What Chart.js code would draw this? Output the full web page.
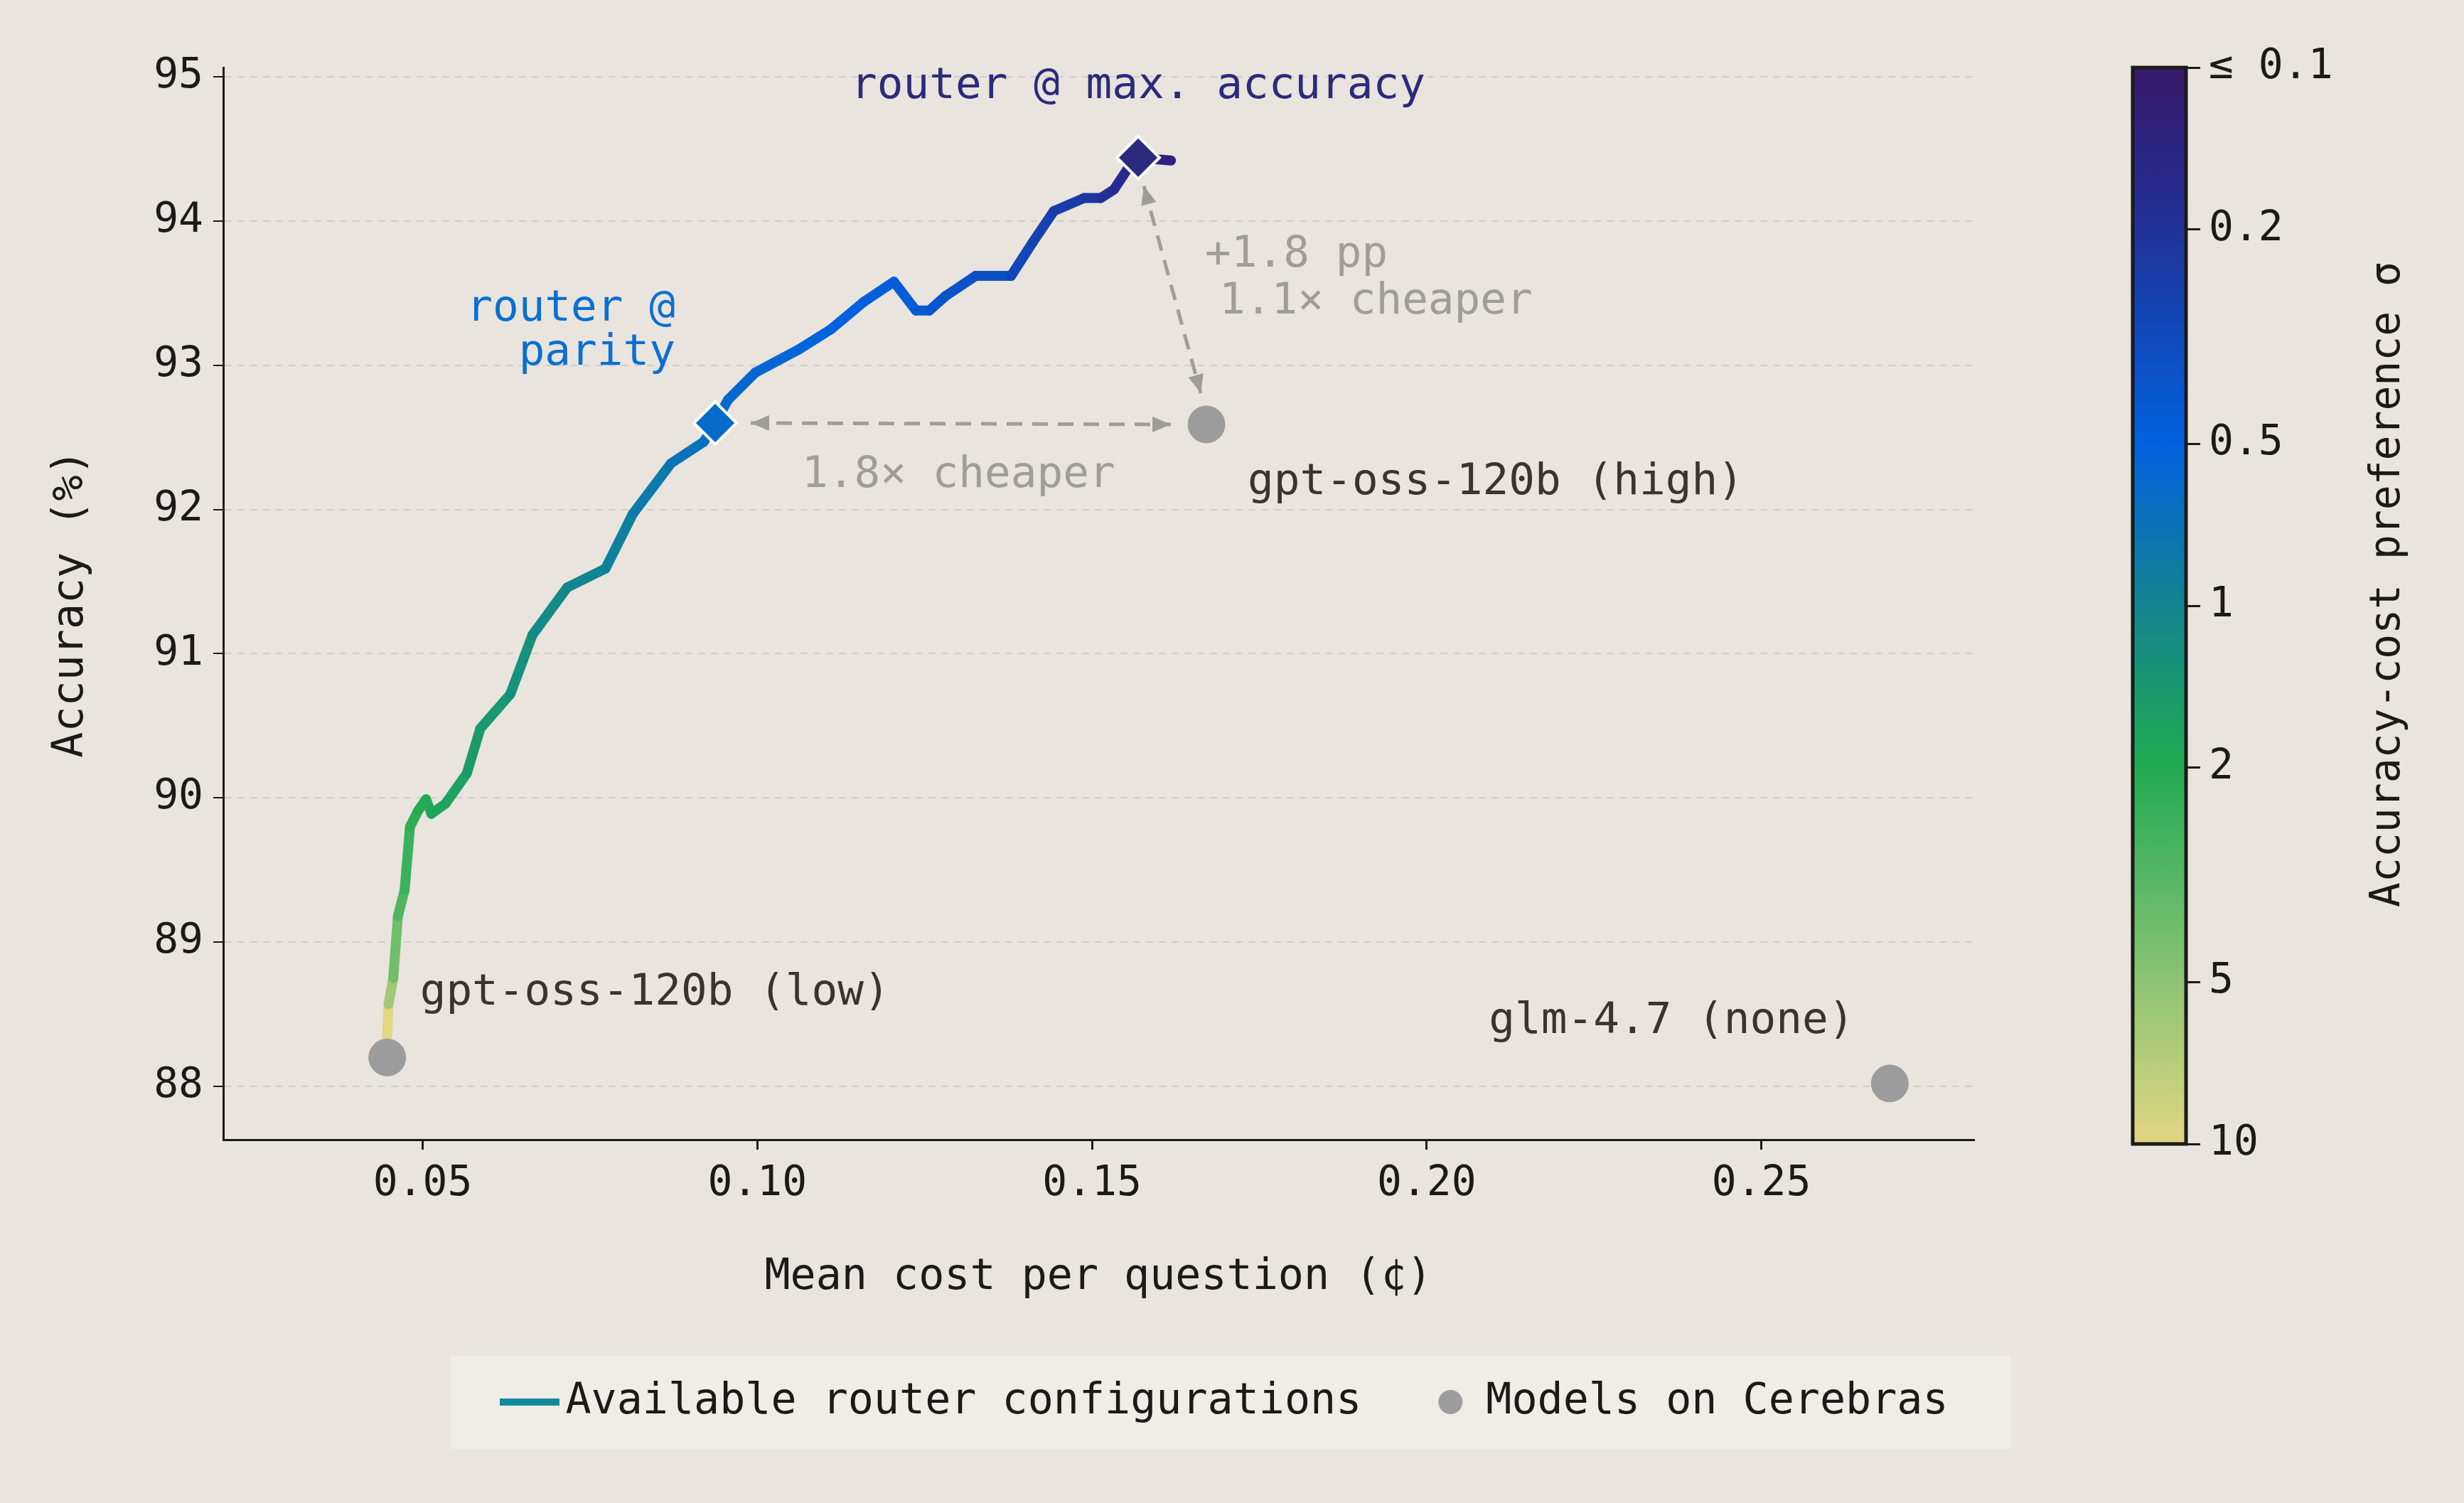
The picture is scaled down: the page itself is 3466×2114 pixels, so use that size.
<!DOCTYPE html>
<html>
<head>
<meta charset="utf-8">
<script src="https://cdn.jsdelivr.net/npm/chart.js@4"></script>
<style>
  html, body { margin: 0; padding: 0; background: #e9e4dd; }
  #main { position: absolute; left: 0; top: 0; }
  #cbar { position: absolute; left: 2900px; top: 0; }
</style>
</head>
<body>
<canvas id="main" width="3466" height="2114"></canvas>
<canvas id="cbar" width="566" height="2114"></canvas>
<script>
// router sweep
const routerCost = [0.0447, 0.0449, 0.0456, 0.0463, 0.0473, 0.0481, 0.0493, 0.0505, 0.0513, 0.0534,
  0.0566, 0.0586, 0.0631, 0.0664, 0.0716, 0.0773, 0.0814, 0.0871, 0.0920, 0.0937,
  0.0956, 0.0997, 0.1062, 0.1110, 0.1159, 0.1204, 0.1237, 0.1257, 0.1281, 0.1326,
  0.1379, 0.1411, 0.1443, 0.1488, 0.1513, 0.1533, 0.1553, 0.1569, 0.1618];
const routerAcc = [88.35, 88.57, 88.75, 89.18, 89.36, 89.80, 89.91, 89.99, 89.89, 89.96,
  90.17, 90.48, 90.72, 91.13, 91.46, 91.59, 91.97, 92.32, 92.47, 92.60,
  92.76, 92.95, 93.11, 93.25, 93.44, 93.58, 93.38, 93.38, 93.48, 93.62,
  93.62, 93.85, 94.07, 94.16, 94.16, 94.22, 94.36, 94.44, 94.42];
const routerSigma = [10, 6, 4, 3, 2.5, 2.2, 2, 1.9, 1.8, 1.7,
  1.5, 1.4, 1.25, 1.1, 1.0, 0.9, 0.8, 0.7, 0.65, 0.6,
  0.58, 0.55, 0.52, 0.5, 0.47, 0.45, 0.42, 0.4, 0.37, 0.34,
  0.3, 0.27, 0.24, 0.21, 0.19, 0.17, 0.15, 0.13, 0.1];

const modelNames = ['gpt-oss-120b (low)', 'gpt-oss-120b (high)', 'glm-4.7 (none)'];
const modelCost = [0.0447, 0.1671, 0.2692];
const modelAcc = [88.2, 92.59, 88.02];

const parityIdx = 19;
const maxIdx = 37;

const xTicks = [0.05, 0.10, 0.15, 0.20, 0.25];
const yTicks = [88, 89, 90, 91, 92, 93, 94, 95];
const sigmaTicks = [0.1, 0.2, 0.5, 1, 2, 5, 10];
const sigmaLabels = ['≤ 0.1', '0.2', '0.5', '1', '2', '5', '10'];

const FONT = "'DejaVu Sans Mono', 'Liberation Mono', monospace";
const INK = '#1c1a18';
const GREY = '#a09d99';

// colormap stops: t = 0 at sigma 10, 1 at sigma 0.1
const cmap = [
  [0.00, [226, 214, 128]],
  [0.15, [140, 196, 116]],
  [0.27, [74, 180, 96]],
  [0.35, [34, 171, 80]],
  [0.50, [17, 133, 144]],
  [0.65, [0, 98, 224]],
  [0.85, [32, 50, 154]],
  [1.00, [56, 24, 106]]
];
function sigmaT(s) { return Math.min(1, Math.max(0, Math.log10(10 / s) / 2)); }
function colorAt(t) {
  for (let i = 1; i < cmap.length; i++) {
    if (t <= cmap[i][0]) {
      const [t0, c0] = cmap[i - 1], [t1, c1] = cmap[i];
      const f = (t - t0) / (t1 - t0);
      const c = c0.map((v, k) => Math.round(v + (c1[k] - v) * f));
      return `rgb(${c[0]},${c[1]},${c[2]})`;
    }
  }
  return 'rgb(56,24,106)';
}

const routerPts = routerCost.map((x, i) => ({ x, y: routerAcc[i] }));
const modelPts = modelCost.map((x, i) => ({ x, y: modelAcc[i] }));

// legend swatches
function swatch(w, h, draw) {
  const c = document.createElement('canvas');
  c.width = w; c.height = h;
  draw(c.getContext('2d'));
  return c;
}
const lineSwatch = swatch(84, 10, g => { g.fillStyle = '#138a9a'; g.fillRect(0, 0, 84, 10); });
const dotSwatch = swatch(36, 36, g => { g.fillStyle = '#9c9c9c'; g.beginPath(); g.arc(18, 18, 17, 0, Math.PI * 2); g.fill(); });

function arrow(ctx, x0, y0, x1, y1, both) {
  ctx.save();
  ctx.strokeStyle = GREY; ctx.fillStyle = GREY; ctx.lineWidth = 5;
  ctx.setLineDash([22, 14]);
  ctx.beginPath(); ctx.moveTo(x0, y0); ctx.lineTo(x1, y1); ctx.stroke();
  ctx.setLineDash([]);
  const head = (xa, ya, xb, yb) => {
    const a = Math.atan2(yb - ya, xb - xa), L = 26, W = 11;
    ctx.beginPath();
    ctx.moveTo(xb, yb);
    ctx.lineTo(xb - L * Math.cos(a) + W * Math.sin(a), yb - L * Math.sin(a) - W * Math.cos(a));
    ctx.lineTo(xb - L * Math.cos(a) - W * Math.sin(a), yb - L * Math.sin(a) + W * Math.cos(a));
    ctx.closePath(); ctx.fill();
  };
  head(x0, y0, x1, y1);
  if (both) head(x1, y1, x0, y0);
  ctx.restore();
}

const annotations = {
  id: 'annotations',
  beforeDraw(chart) {
    const { ctx } = chart;
    ctx.save();
    ctx.fillStyle = '#f0ece6';
    ctx.fillRect(634, 1907, 2195, 131);
    ctx.restore();
  },
  afterLayout(chart) {
    const lg = chart.legend;
    const d = 1733 - (lg.left + lg.right) / 2;
    lg.left += d; lg.right += d;
  },
  afterDatasetsDraw(chart) {
    const { ctx, scales: { x, y } } = chart;
    const px = v => x.getPixelForValue(v), py = v => y.getPixelForValue(v);
    const par = { x: px(routerCost[parityIdx]), y: py(routerAcc[parityIdx]) };
    const mx = { x: px(routerCost[maxIdx]), y: py(routerAcc[maxIdx]) };
    const hi = { x: px(modelCost[1]), y: py(modelAcc[1]) };

    arrow(ctx, par.x + 50, par.y, hi.x - 50, hi.y, true);
    arrow(ctx, mx.x + 8, mx.y + 40, hi.x - 8, hi.y - 44, true);

    ctx.save();
    ctx.font = '61px ' + FONT;
    ctx.textBaseline = 'middle';
    const txt = (s, tx, ty, color, align) => {
      ctx.fillStyle = color; ctx.textAlign = align || 'left'; ctx.fillText(s, tx, ty);
    };
    txt('router @ max. accuracy', mx.x, mx.y - 100, '#2b2a7c', 'center');
    txt('router @', par.x - 56, par.y - 160, '#0a6fd1', 'right');
    txt('parity', par.x - 56, par.y - 98, '#0a6fd1', 'right');
    txt('+1.8 pp', hi.x - 2, hi.y - 238, GREY);
    txt('1.1× cheaper', hi.x + 18, hi.y - 172, GREY);
    txt('1.8× cheaper', par.x + 122, par.y + 74, GREY);
    txt(modelNames[1], hi.x + 58, hi.y + 82, '#3a3330');
    const lo = { x: px(modelCost[0]), y: py(modelAcc[0]) };
    txt(modelNames[0], lo.x + 46, lo.y - 90, '#3a3330');
    const gl = { x: px(modelCost[2]), y: py(modelAcc[2]) };
    txt(modelNames[2], gl.x - 564, gl.y - 87, '#3a3330');
    ctx.restore();
  }
};

new Chart(document.getElementById('main'), {
  type: 'line',
  data: {
    datasets: [
      {
        label: 'Available router configurations',
        data: routerPts,
        borderColor: '#138a9a',
        backgroundColor: '#138a9a',
        borderWidth: 14,
        pointRadius: 0,
        tension: 0,
        borderCapStyle: 'round',
        borderJoinStyle: 'round',
        segment: { borderColor: c => colorAt(sigmaT(routerSigma[c.p0DataIndex])) },
        order: 3
      },
      {
        label: 'Models on Cerebras',
        type: 'scatter',
        data: modelPts,
        backgroundColor: '#9c9c9c',
        borderColor: '#9c9c9c',
        pointRadius: 26,
        pointStyle: 'circle',
        order: 2
      },
      {
        label: 'parity',
        type: 'scatter',
        data: [routerPts[parityIdx]],
        backgroundColor: colorAt(sigmaT(routerSigma[parityIdx])),
        borderColor: '#ffffff',
        borderWidth: 4,
        pointStyle: 'rectRot',
        pointRadius: 30,
        order: 1
      },
      {
        label: 'max',
        type: 'scatter',
        data: [routerPts[maxIdx]],
        backgroundColor: '#2b2a7c',
        borderColor: '#ffffff',
        borderWidth: 4,
        pointStyle: 'rectRot',
        pointRadius: 30,
        order: 1
      }
    ]
  },
  options: {
    responsive: false,
    animation: false,
    layout: { padding: { left: 60, right: 690, top: 95, bottom: 102 } },
    scales: {
      x: {
        type: 'linear',
        min: 0.0202, max: 0.2817,
        afterBuildTicks: s => { s.ticks = xTicks.map(v => ({ value: v })); },
        afterFit: s => { s.height = 234; },
        ticks: { font: { family: FONT, size: 58 }, color: INK, padding: 14, callback: v => v.toFixed(2) },
        grid: { drawOnChartArea: false, color: INK, tickColor: INK, tickLength: 14, lineWidth: 3 },
        border: { color: INK, width: 3 },
        title: { display: true, text: 'Mean cost per question (¢)', font: { family: FONT, size: 60 }, color: INK, padding: { top: 30 } }
      },
      y: {
        min: 87.63, max: 95.065,
        afterBuildTicks: s => { s.ticks = yTicks.map(v => ({ value: v })); },
        afterFit: s => { s.width = 254; },
        ticks: { font: { family: FONT, size: 58 }, color: INK, padding: 14 },
        grid: { color: '#d2cdc6', tickColor: INK, tickLength: 14, lineWidth: 2 },
        border: { color: INK, width: 3, dash: [10, 8] },
        title: { display: true, text: 'Accuracy (%)', font: { family: FONT, size: 60 }, color: INK, padding: { bottom: 30 } }
      }
    },
    plugins: {
      legend: {
        position: 'bottom',
        labels: {
          filter: item => item.datasetIndex < 2,
          sort: (a, b) => a.datasetIndex - b.datasetIndex,
          generateLabels: chart => Chart.defaults.plugins.legend.labels.generateLabels(chart)
            .map(it => Object.assign(it, { pointStyle: it.datasetIndex === 0 ? lineSwatch : dotSwatch })),
          usePointStyle: true,
          font: { family: FONT, size: 60 },
          color: INK,
          padding: 105
        }
      },
      tooltip: { enabled: false }
    }
  },
  plugins: [annotations]
});

// colour bar
const cbarTitle = {
  id: 'cbarTitle',
  afterDraw(chart) {
    const { ctx, chartArea: a } = chart;
    ctx.save();
    ctx.strokeStyle = INK; ctx.lineWidth = 5;
    ctx.strokeRect(a.left, a.top, a.right - a.left, a.bottom - a.top);
    ctx.translate(3360 - 2900, (a.top + a.bottom) / 2 - 30);
    ctx.rotate(-Math.PI / 2);
    ctx.font = '58px ' + FONT; ctx.fillStyle = INK;
    ctx.textAlign = 'center'; ctx.textBaseline = 'middle';
    ctx.fillText('Accuracy-cost preference σ', 0, 0);
    ctx.restore();
  }
};

new Chart(document.getElementById('cbar'), {
  type: 'bar',
  data: {
    labels: ['σ'],
    datasets: [{
      data: [[0.1, 10]],
      borderWidth: 0,
      backgroundColor: c => {
        const a = c.chart.chartArea;
        if (!a) return '#888';
        const g = c.chart.ctx.createLinearGradient(0, a.bottom, 0, a.top);
        cmap.forEach(([t, col]) => g.addColorStop(t, `rgb(${col.join(',')})`));
        return g;
      }
    }]
  },
  options: {
    responsive: false,
    animation: false,
    layout: { padding: { left: 100, top: 95, bottom: 505, right: 0 } },
    datasets: { bar: { categoryPercentage: 1, barPercentage: 1 } },
    scales: {
      x: { display: false },
      y: {
        type: 'logarithmic',
        position: 'right',
        reverse: true,
        min: 0.1, max: 10,
        afterBuildTicks: s => { s.ticks = sigmaTicks.map(v => ({ value: v })); },
        afterFit: s => { s.width = 391; },
        ticks: { font: { family: FONT, size: 58 }, color: INK, padding: 12,
          callback: (v, i) => sigmaLabels[i] },
        grid: { drawOnChartArea: false, tickColor: INK, tickLength: 20, lineWidth: 3 },
        border: { display: false }
      }
    },
    plugins: { legend: { display: false }, tooltip: { enabled: false } }
  },
  plugins: [cbarTitle]
});
</script>
</body>
</html>
